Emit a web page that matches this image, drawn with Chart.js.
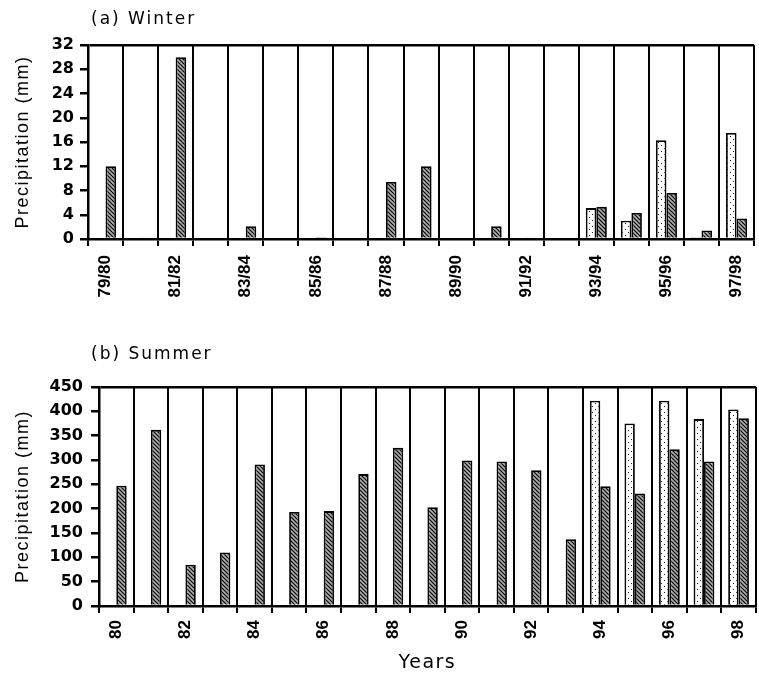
<!DOCTYPE html>
<html>
<head>
<meta charset="utf-8">
<script src="https://cdn.jsdelivr.net/npm/chart.js@4.4.1/dist/chart.umd.min.js"></script>
<style>
html, body { margin: 0; padding: 0; background: #fff; overflow: hidden; }
canvas { display: block; }
</style>
</head>
<body>
<canvas id="winterChart" width="766" height="330"></canvas>
<canvas id="summerChart" width="766" height="345"></canvas>
<script>

// -------------------------------------
// DATA
// -------------------------------------

const winterLabels = ["79/80","80/81","81/82","82/83","83/84","84/85","85/86","86/87","87/88","88/89",
"89/90","90/91","91/92","92/93","93/94","94/95","95/96","96/97","97/98"];
const winterDotted = [null,null,null,null,null,null,null,null,null,null,null,null,null,null,5.1,3.0,16.3,0.3,17.5];
const winterHatched = [12,0.1,30,0,2.1,0,0.3,0,9.4,12,0,2.1,0.1,0,5.3,4.3,7.6,1.4,3.4];
const winterTicks = [0,4,8,12,16,20,24,28,32];

const summerLabels = ["80","81","82","83","84","85","86","87","88","89",
"90","91","92","93","94","95","96","97","98"];
const summerDotted = [null,null,null,null,null,null,null,null,null,null,null,null,null,null,422,375,422,384,404];
const summerHatched = [247,362,85,110,291,193,195,271,325,203,299,297,279,137,246,231,322,297,386];
const summerTicks = [0,50,100,150,200,250,300,350,400,450];


// -------------------------------------
// FILL PATTERNS
// -------------------------------------

function hatchPattern(){

const c = document.createElement("canvas");
c.width = 4; c.height = 4;
const g = c.getContext("2d");
g.fillStyle = "#b0b0b0";
g.fillRect(0,0,4,4);
g.strokeStyle = "#000";
g.lineWidth = 1.2;
g.beginPath();
g.moveTo(0,0); g.lineTo(4,4);
g.moveTo(-1,3); g.lineTo(1,5);
g.moveTo(3,-1); g.lineTo(5,1);
g.stroke();
return g.createPattern(c, "repeat");

}

function dotPattern(){

const c = document.createElement("canvas");
c.width = 6; c.height = 6;
const g = c.getContext("2d");
g.fillStyle = "#fff";
g.fillRect(0,0,6,6);
g.fillStyle = "#222";
g.fillRect(1,1,1,1);
g.fillRect(4,4,1,1);
return g.createPattern(c, "repeat");

}


// -------------------------------------
// PANEL TITLE + LETTER SPACING
// axis titles are drawn spaced, tick labels (z:1, after the bars) are not
// -------------------------------------

const panelTitle = {

id: "panelTitle",

beforeDraw(chart){ chart.ctx.letterSpacing = "1.5px"; },
afterDatasetsDraw(chart){ chart.ctx.letterSpacing = "0px"; },

afterDraw(chart, args, opts){
const ctx = chart.ctx;
ctx.save();
ctx.letterSpacing = "2px";
ctx.font = "17px 'DejaVu Sans', sans-serif";
ctx.fillStyle = "#000";
ctx.textBaseline = "middle";
ctx.textAlign = "left";
ctx.fillText(opts.text, opts.x, opts.y);
ctx.restore();
}

};


// -------------------------------------
// BUILD ONE PANEL
// -------------------------------------

function buildPanel(id, cfg){

const xTickFont = { family: "'Liberation Sans', Arial, sans-serif", size: 17, weight: "bold" };
const yTickFont = { family: "'DejaVu Sans', sans-serif", size: 16, weight: "bold" };
const titleFont = { family: "'Liberation Sans', Arial, sans-serif", size: 18 };
const yMax = cfg.yTicks[cfg.yTicks.length - 1];

new Chart(document.getElementById(id), {

type: "bar",

data: {
labels: cfg.labels,
datasets: [
{ label: "dotted", data: cfg.dotted, backgroundColor: dotPattern(), borderColor: "#000", borderWidth: 1.8 },
{ label: "hatched", data: cfg.hatched, backgroundColor: hatchPattern(), borderColor: "#000", borderWidth: 1.8 }
]
},

options: {
responsive: false,
animation: false,
layout: { padding: { top: cfg.top, right: 2, left: 0, bottom: 0 } },
datasets: { bar: { categoryPercentage: 0.6, barPercentage: 1.0 } },
plugins: {
legend: { display: false },
tooltip: { enabled: false },
panelTitle: { text: cfg.title, x: 91, y: cfg.titleY }
},
scales: {
x: {
afterFit(scale){ scale.height = cfg.xHeight; },
border: { color: "#000", width: 2.5 },
grid: { color: "#000", lineWidth: 2, tickLength: 7, tickColor: "#000" },
ticks: {
z: 1,
autoSkip: false,
minRotation: 90,
maxRotation: 90,
padding: cfg.xPad,
color: "#000",
font: xTickFont,
callback: (v, i) => i % 2 === 0 ? cfg.labels[i] : ""
},
title: {
display: !!cfg.xTitle,
text: cfg.xTitle || "",
color: "#000",
font: { family: "'DejaVu Sans', sans-serif", size: 19 },
padding: { top: 0, bottom: 1 }
}
},
y: {
min: 0,
max: yMax,
afterFit(scale){ scale.width = cfg.yWidth; },
afterBuildTicks(scale){ scale.ticks = cfg.yTicks.map(v => ({ value: v })); },
border: { color: "#000", width: 2.5 },
grid: {
color: c => c.tick && c.tick.value === yMax ? "#000" : "rgba(0,0,0,0)",
lineWidth: 2.5,
tickLength: 8,
tickColor: "#000"
},
ticks: { z: 1, padding: cfg.yPad, color: "#000", font: yTickFont },
title: {
display: true,
text: "Precipitation (mm)",
color: "#000",
font: titleFont,
padding: { top: 12, bottom: 0 }
}
}
}
},

plugins: [panelTitle]

});

}


// -------------------------------------
// LOAD CHARTS
// -------------------------------------

buildPanel("winterChart", {
title: "(a) Winter", titleY: 20,
labels: winterLabels, dotted: winterDotted, hatched: winterHatched, yTicks: winterTicks,
top: 45, xHeight: 91, yWidth: 88, xPad: 9, yPad: 6
});

buildPanel("summerChart", {
title: "(b) Summer", titleY: 25,
labels: summerLabels, dotted: summerDotted, hatched: summerHatched, yTicks: summerTicks,
top: 57, xHeight: 69, yWidth: 99, xPad: 7, yPad: 8,
xTitle: "Years"
});

</script>
</body>
</html>
